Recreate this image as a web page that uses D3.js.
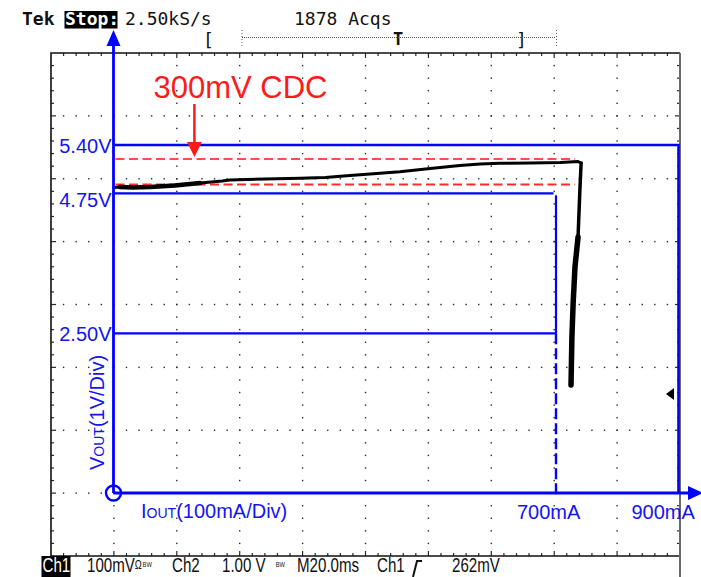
<!DOCTYPE html>
<html>
<head>
<meta charset="utf-8">
<script src="https://cdn.jsdelivr.net/npm/d3@7"></script>
<style>
  body { margin: 0; background: #fff; }
  svg { display: block; }
</style>
</head>
<body>
<svg id="chart" width="701" height="577"></svg>
<script>
// Regulation limits (V) and current-limit corners (mA)
const voltLevels = [5.40, 4.75, 2.50];
const voltLabels = ["5.40V", "4.75V", "2.50V"];
const currentLimits = [700, 900];
const currentLabels = ["700mA", "900mA"];

// Cable-drop-compensation band (V)
const cdcBand = [5.21, 4.87];
const cdcLabel = "300mV CDC";
const cdcArrowCurrent = 128;

// Measured V/I load line: regulation region (mA, V)
const flatCurrent = [1, 10, 31, 58, 97, 137, 172, 184, 240, 295, 335, 374, 406, 453, 501, 548, 580, 611, 659, 707, 736, 741];
const flatVoltage = [4.828, 4.835, 4.828, 4.835, 4.855, 4.889, 4.916, 4.929, 4.943, 4.952, 4.963, 4.990, 5.010, 5.041, 5.084, 5.124, 5.144, 5.154, 5.158, 5.164, 5.178, 5.158];
// Measured V/I load line: current-limit fold-back (mA, V)
const foldCurrent = [741, 739, 736, 731, 728, 726, 724.5];
const foldVoltage = [5.158, 4.794, 4.048, 3.566, 2.987, 2.442, 1.691];

// Axis captions
const yCaption = ["V", "OUT", "(1V/Div)"];
const xCaption = ["I", "OUT", "(100mA/Div)"];

const svg = d3.select("#chart");
const BLUE = "#0000ff";
const BLUE_TXT = "#1414f0";
const RED = "#ff1a1a";

// ---------- scope graticule (10 x 8 divisions, 5 minor per division) ----------
const gx = d3.scaleLinear().domain([0, 10]).range([51, 680]);
const gy = d3.scaleLinear().domain([0, 8]).range([53, 556]);
const grat = svg.append("g").attr("fill", "#2a2a2a");

d3.range(1, 10).forEach(i => {
  d3.range(1, 40).forEach(j => {
    grat.append("rect").attr("x", gx(i) - 0.7).attr("y", gy(j / 5) - 0.7)
      .attr("width", 1.4).attr("height", 1.4);
  });
});
d3.range(1, 8).forEach(j => {
  d3.range(1, 50).forEach(i => {
    grat.append("rect").attr("x", gx(i / 5) - 0.7).attr("y", gy(j) - 0.7)
      .attr("width", 1.4).attr("height", 1.4);
  });
});
// border ticks
d3.range(1, 50).forEach(i => {
  const len = i % 5 === 0 ? 5 : 3;
  grat.append("rect").attr("x", gx(i / 5) - 0.6).attr("y", gy(0)).attr("width", 1.2).attr("height", len);
  grat.append("rect").attr("x", gx(i / 5) - 0.6).attr("y", gy(8) - len).attr("width", 1.2).attr("height", len);
});
d3.range(1, 40).forEach(j => {
  const len = j % 5 === 0 ? 5 : 3;
  grat.append("rect").attr("x", gx(0)).attr("y", gy(j / 5) - 0.6).attr("width", len).attr("height", 1.2);
  grat.append("rect").attr("x", gx(10) - len).attr("y", gy(j / 5) - 0.6).attr("width", len).attr("height", 1.2);
});
// border
svg.append("path")
  .attr("d", `M${gx(10)},${gy(0)} H${gx(0)} V${gy(8)} H${gx(10)}`)
  .attr("fill", "none").attr("stroke", "#111").attr("stroke-width", 1.6);
svg.append("line")
  .attr("x1", gx(10)).attr("x2", gx(10)).attr("y1", gy(0)).attr("y2", 577)
  .attr("stroke", "#6a6a6a").attr("stroke-width", 2);

// ---------- status text ----------
const mono = "'DejaVu Sans Mono', monospace";
const header = svg.append("g").attr("font-family", mono).attr("font-size", 18).attr("fill", "#111");
header.append("text").attr("x", 22).attr("y", 25).attr("font-weight", "bold").text("Tek");
header.append("rect").attr("x", 64.5).attr("y", 11).attr("width", 53).attr("height", 17.5).attr("fill", "#000");
header.append("text").attr("x", 65).attr("y", 25).attr("font-weight", "bold").attr("fill", "#fff").text("Stop:");
header.append("text").attr("x", 125).attr("y", 25).text("2.50kS/s");
header.append("text").attr("x", 294).attr("y", 25).text("1878 Acqs");
header.append("text").attr("x", 203).attr("y", 46).text("[");
header.append("text").attr("x", 516).attr("y", 46).text("]");
header.append("text").attr("x", 393).attr("y", 45).attr("font-weight", "bold").attr("font-size", 17).text("T");
header.append("line").attr("x1", 242).attr("x2", 556).attr("y1", 37.5).attr("y2", 37.5)
  .attr("stroke", "#555").attr("stroke-width", 1).attr("stroke-dasharray", "1,1");
[242, 556.5].forEach(xx => {
  header.append("line").attr("x1", xx).attr("x2", xx).attr("y1", 30).attr("y2", 47)
    .attr("stroke", "#555").attr("stroke-width", 1).attr("stroke-dasharray", "1,2");
});

// footer readout: narrow glyphs, so the whole row is squeezed horizontally
const SQ = 0.72;
svg.append("rect").attr("x", 41.5).attr("y", 556).attr("width", 29).attr("height", 21).attr("fill", "#000");
const footerG = svg.append("g").attr("transform", `scale(${SQ},1)`)
  .attr("font-family", "'Liberation Sans', Arial, sans-serif")
  .attr("font-size", 21).attr("fill", "#111");
const footer = [
  { t: "Ch1", x: 42.5, fill: "#fff" },
  { t: "100mV", x: 87, sub: ["Ω", "BW"] },
  { t: "Ch2", x: 172 },
  { t: "1.00 V", x: 222, sub: ["", "BW"] },
  { t: "M20.0ms", x: 297 },
  { t: "Ch1", x: 377 },
  { t: "262mV", x: 452 }
];
footer.forEach(f => {
  const t = footerG.append("text").attr("x", f.x / SQ).attr("y", 572)
    .attr("fill", f.fill || "#111").text(f.t);
  if (f.sub) {
    if (f.sub[0]) t.append("tspan").attr("font-size", 13).attr("dy", -3).text(f.sub[0]);
    t.append("tspan").attr("font-size", 8).attr("dx", f.sub[0] ? 1 : 14)
      .attr("dy", f.sub[0] ? -2 : -5).text(f.sub[1]);
  }
});
svg.append("path").attr("d", "M413,577 L417,561 L422,561").attr("fill", "none")
  .attr("stroke", "#111").attr("stroke-width", 2);

// trigger level marker
svg.append("path").attr("d", "M666,394 L674,388 L674,400 Z").attr("fill", "#000");

// ---------- data scales ----------
const x = d3.scaleLinear().domain([0, 700, 900]).range([113.5, 556, 678.5]);
const y = d3.scaleLinear().domain([0, 2.5, 4.75, 5.4]).range([493, 333.3, 193.3, 145]);

// ---------- limit boxes ----------
const limits = svg.append("g").attr("fill", "none").attr("stroke", BLUE);
limits.append("path")
  .attr("d", `M${x(0)},${y(voltLevels[0])} H${x(currentLimits[1])} V${y(0)}`)
  .attr("stroke-width", 2.6);
limits.append("path")
  .attr("d", `M${x(0)},${y(voltLevels[1])} H${x(currentLimits[0]) - 2.5}`)
  .attr("stroke-width", 2.2);
limits.append("path")
  .attr("d", `M${x(currentLimits[0])},${y(voltLevels[1]) + 2} V${y(voltLevels[2])}`)
  .attr("stroke-width", 2.2);
limits.append("path")
  .attr("d", `M${x(0)},${y(voltLevels[2])} H${x(currentLimits[0])}`)
  .attr("stroke-width", 2.2);
limits.append("path")
  .attr("d", `M${x(currentLimits[0])},${y(voltLevels[2])} V${y(0) + 4}`)
  .attr("stroke-width", 2.4).attr("stroke-dasharray", "11,4");

// ---------- CDC band ----------
const cdc = svg.append("g");
cdc.selectAll("line").data(cdcBand).join("line")
  .attr("x1", x(0) + 2).attr("x2", x(731))
  .attr("y1", d => y(d)).attr("y2", d => y(d))
  .attr("stroke", (d, i) => i === 0 ? "#ff4d4d" : "#ff2a2a")
  .attr("stroke-width", 2).attr("stroke-dasharray", "9,4.5");
const ax = x(cdcArrowCurrent);
const tip = y(cdcBand[0]) - 2;
cdc.append("line").attr("x1", ax).attr("x2", ax).attr("y1", 104).attr("y2", tip - 12)
  .attr("stroke", RED).attr("stroke-width", 2.5);
cdc.append("path").attr("d", `M${ax - 7.5},${tip - 15} L${ax + 7.5},${tip - 15} L${ax},${tip} Z`)
  .attr("fill", RED);
cdc.append("text").attr("x", ax - 41).attr("y", 98)
  .attr("font-family", "'Liberation Sans', Arial, sans-serif").attr("font-size", 31)
  .attr("fill", RED).text(cdcLabel);

// ---------- load line trace ----------
const line = d3.line().x(d => x(d[0])).y(d => y(d[1]));
const flat = d3.zip(flatCurrent, flatVoltage);
const fold = d3.zip(foldCurrent, foldVoltage);
const trace = svg.append("g").attr("fill", "none").attr("stroke", "#000")
  .attr("stroke-linejoin", "round").attr("stroke-linecap", "round");
trace.append("path").attr("d", line(flat)).attr("stroke-width", 3);
trace.append("path").attr("d", line(flat.slice(1, 6))).attr("stroke-width", 4.5);
trace.append("path").attr("d", line(fold)).attr("stroke-width", 3.5);
trace.append("path").attr("d", line(fold.slice(2))).attr("stroke-width", 5.5);

// ---------- blue axes ----------
const axes = svg.append("g");
axes.append("line").attr("x1", x(0)).attr("x2", x(0)).attr("y1", y(0)).attr("y2", 44)
  .attr("stroke", BLUE).attr("stroke-width", 2.8);
axes.append("path").attr("d", `M${x(0) - 7},46 L${x(0) + 7},46 L${x(0)},30 Z`).attr("fill", BLUE);
axes.append("line").attr("x1", x(0)).attr("x2", 690).attr("y1", y(0)).attr("y2", y(0))
  .attr("stroke", BLUE).attr("stroke-width", 2.8);
axes.append("path").attr("d", `M688,${y(0) - 7} L688,${y(0) + 7} L703,${y(0)} Z`).attr("fill", BLUE);
axes.append("circle").attr("cx", x(0)).attr("cy", y(0)).attr("r", 7.5)
  .attr("fill", "none").attr("stroke", BLUE).attr("stroke-width", 2.4);

const sans = "'Liberation Sans', Arial, sans-serif";
const labels = svg.append("g").attr("font-family", sans).attr("font-size", 20).attr("fill", BLUE_TXT);
// voltage labels: 4.75V sits just below its line
const vOffsets = [8, 14, 8];
labels.selectAll("text.v").data(voltLevels).join("text").attr("class", "v")
  .attr("x", x(0) - 2).attr("y", (d, i) => y(d) + vOffsets[i])
  .attr("text-anchor", "end").text((d, i) => voltLabels[i]);
const iOffsets = [39, 47];
labels.selectAll("text.i").data(currentLimits).join("text").attr("class", "i")
  .attr("x", (d, i) => x(d) - iOffsets[i]).attr("y", 519).text((d, i) => currentLabels[i]);

const xc = labels.append("text").attr("x", 141).attr("y", 517.5);
xc.append("tspan").text(xCaption[0]);
xc.append("tspan").attr("font-size", 14).text(xCaption[1]);
xc.append("tspan").text(xCaption[2]);

const yc = labels.append("text").attr("transform", `translate(103.5,470) rotate(-90)`);
yc.append("tspan").text(yCaption[0]);
yc.append("tspan").attr("font-size", 14).text(yCaption[1]);
yc.append("tspan").text(yCaption[2]);
</script>
</body>
</html>
